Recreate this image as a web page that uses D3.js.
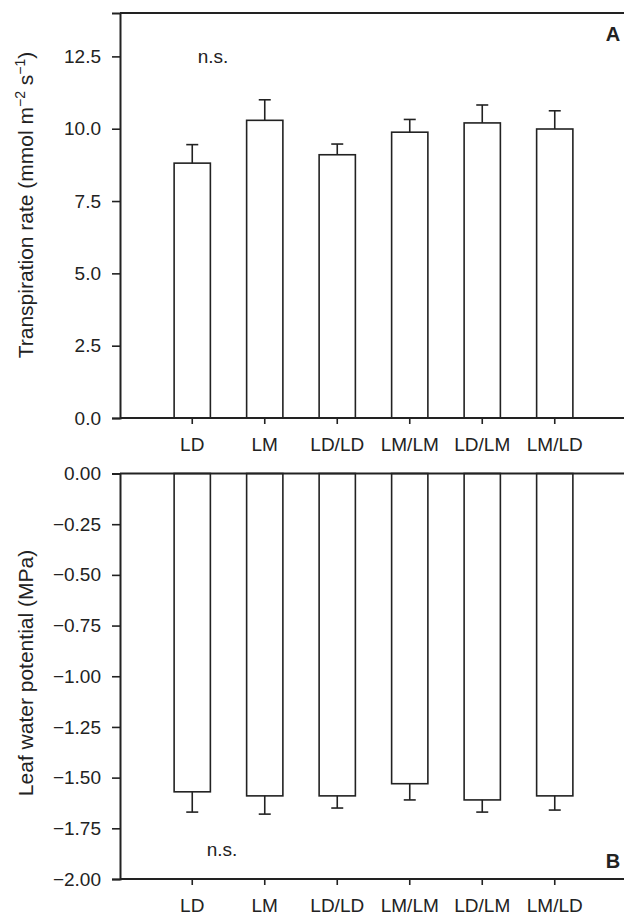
<!DOCTYPE html>
<html lang="en">
<head>
<meta charset="UTF-8">
<title>Transpiration and leaf water potential</title>
<script src="https://d3js.org/d3.v7.min.js"></script>
<style>
  body { margin: 0; background: #fff; }
  text { font-family: "Liberation Sans", Arial, sans-serif; fill: #222; }
</style>
</head>
<body>
<script>
var categories = ['LD', 'LM', 'LD/LD', 'LM/LM', 'LD/LM', 'LM/LD'];
var transpiration = [8.81, 10.29, 9.10, 9.88, 10.20, 9.99];
var transpirationErr = [0.64, 0.71, 0.37, 0.44, 0.62, 0.63];
var waterPotential = [-1.57, -1.59, -1.59, -1.53, -1.61, -1.59];
var waterPotentialErr = [0.10, 0.09, 0.06, 0.08, 0.06, 0.07];
var topTicks = [0, 2.5, 5, 7.5, 10, 12.5];
var bottomTicks = [0, -0.25, -0.5, -0.75, -1, -1.25, -1.5, -1.75, -2];

var width = 624, height = 915;
var left = 120, right = 624;
var ink = '#222';

var svg = d3.select('body').append('svg')
    .attr('width', width)
    .attr('height', height);

var x = d3.scaleBand()
    .domain(categories)
    .range([156, 591])
    .paddingInner(0.5)
    .paddingOuter(0.25);

// panel A
var yA = d3.scaleLinear().domain([0, 14]).range([418, 13]);
// panel B
var yB = d3.scaleLinear().domain([-2, 0]).range([879, 473.5]);

function drawPanel(y, values, errs, ticks, fmt, title, letter, opts) {
    var g = svg.append('g');

    // bars
    g.selectAll('rect.bar')
        .data(values)
        .enter().append('rect')
        .attr('class', 'bar')
        .attr('x', function(d, i) { return x(categories[i]); })
        .attr('width', x.bandwidth())
        .attr('y', function(d) { return Math.min(y(d), y(0)); })
        .attr('height', function(d) { return Math.abs(y(d) - y(0)); })
        .attr('fill', '#fff')
        .attr('stroke', ink)
        .attr('stroke-width', 1.6);

    // error bars (one side, away from zero)
    var capW = 12;
    values.forEach(function(d, i) {
        var cx = x(categories[i]) + x.bandwidth() / 2;
        var end = d + (d >= 0 ? errs[i] : -errs[i]);
        g.append('line')
            .attr('x1', cx).attr('x2', cx)
            .attr('y1', y(d)).attr('y2', y(end))
            .attr('stroke', ink).attr('stroke-width', 1.6);
        g.append('line')
            .attr('x1', cx - capW / 2).attr('x2', cx + capW / 2)
            .attr('y1', y(end)).attr('y2', y(end))
            .attr('stroke', ink).attr('stroke-width', 1.6);
    });

    // y axis
    var yAxis = d3.axisLeft(y).tickValues(ticks).tickFormat(fmt).tickSizeOuter(0).tickSize(8).tickPadding(11);
    var ga = svg.append('g').attr('transform', 'translate(' + left + ',0)').call(yAxis);
    ga.select('.domain').attr('stroke', ink).attr('stroke-width', 2);
    ga.selectAll('.tick line').attr('stroke', ink).attr('stroke-width', 1.6);
    ga.selectAll('.tick text').attr('font-size', 19).attr('fill', ink)
        .style('font-family', '"Liberation Sans", Arial, sans-serif');

    // top and bottom frame lines
    var r = y.range();
    svg.append('line').attr('x1', left).attr('x2', right)
        .attr('y1', r[1]).attr('y2', r[1]).attr('stroke', ink).attr('stroke-width', 2);

    var xAxis = d3.axisBottom(x).tickSizeOuter(0).tickSize(6).tickPadding(14);
    var gx = svg.append('g').attr('transform', 'translate(0,' + r[0] + ')').call(xAxis);
    gx.select('.domain').remove();
    gx.selectAll('.tick line').attr('stroke', ink).attr('stroke-width', 1.6);
    gx.selectAll('.tick text').attr('font-size', 19).attr('fill', ink)
        .style('font-family', '"Liberation Sans", Arial, sans-serif');
    svg.append('line').attr('x1', left).attr('x2', right)
        .attr('y1', r[0]).attr('y2', r[0]).attr('stroke', ink).attr('stroke-width', 2);

    // y title
    var t = svg.append('text')
        .attr('transform', 'translate(' + opts.titleX + ',' + opts.titleY + ') rotate(-90)')
        .attr('text-anchor', 'middle')
        .attr('font-size', 21);
    title(t);

    // n.s.
    svg.append('text')
        .attr('x', opts.nsX).attr('y', opts.nsY)
        .attr('text-anchor', 'middle')
        .attr('font-size', 19)
        .text('n.s.');

    // panel letter
    svg.append('text')
        .attr('x', 613).attr('y', opts.letterY)
        .attr('text-anchor', 'middle')
        .attr('font-size', 20)
        .attr('font-weight', 'bold')
        .text(letter);
}

drawPanel(yA, transpiration, transpirationErr, topTicks, d3.format('.1f'),
    function(t) {
        t.append('tspan').text('Transpiration rate (mmol m');
        t.append('tspan').attr('dy', -8).attr('font-size', 14).text('\u22122');
        t.append('tspan').attr('dy', 8).text(' s');
        t.append('tspan').attr('dy', -8).attr('font-size', 14).text('\u22121');
        t.append('tspan').attr('dy', 8).text(')');
    }, 'A', { titleX: 33, titleY: 205, nsX: 213, nsY: 63, letterY: 41 });

drawPanel(yB, waterPotential, waterPotentialErr, bottomTicks,
    function(d) { return d3.format('.2f')(d).replace('-', '\u2212'); },
    function(t) { t.text('Leaf water potential (MPa)'); },
    'B', { titleX: 33, titleY: 673, nsX: 222, nsY: 856, letterY: 868 });
</script>
</body>
</html>
